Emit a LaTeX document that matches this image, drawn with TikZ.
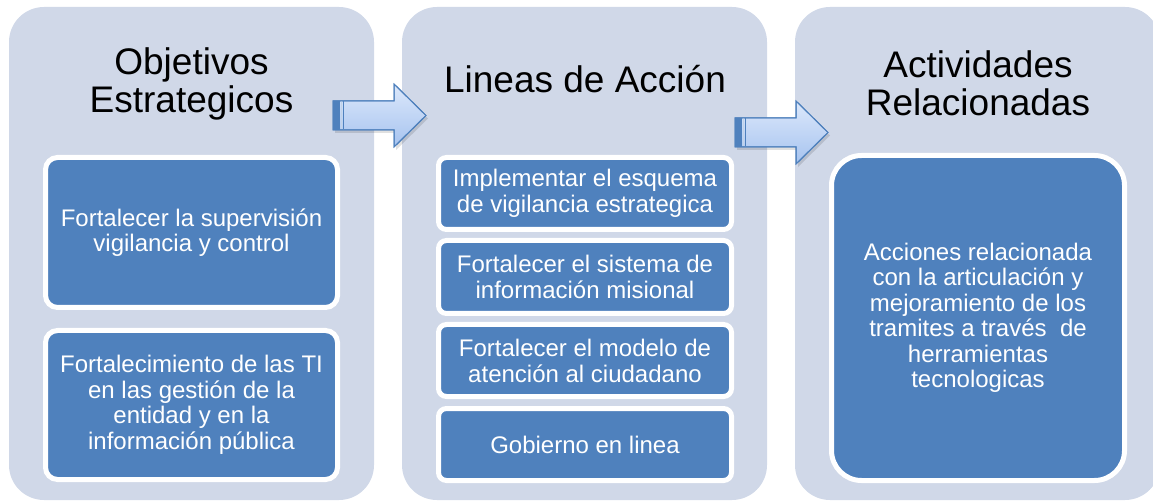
\documentclass[tikz,border=0pt]{standalone}
\usepackage{fontspec}
\setmainfont{Liberation Sans}
\definecolor{panelbg}{HTML}{D0D8E8}
\definecolor{boxblue}{HTML}{4F81BD}
\definecolor{arrowtop}{HTML}{DCE8FB}
\definecolor{arrowbot}{HTML}{A6C3EF}
\begin{document}
\begin{tikzpicture}[x=1pt,y=-1pt,
  panel/.style={fill=panelbg, rounded corners=35pt, inner sep=0pt, minimum width=365pt, minimum height=493pt},
  box/.style={fill=boxblue, draw=white, line width=5pt, text=white, align=center, inner sep=0pt,
    font=\fontsize{24}{25.5}\selectfont},
  lbox/.style={box, minimum width=293pt, minimum height=72pt, rounded corners=8pt, font=\fontsize{24}{26}\selectfont},
  title/.style={font=\fontsize{37}{38}\selectfont, align=center, inner sep=0pt},
  arrowshape/.style={top color=arrowtop, bottom color=arrowbot, draw=boxblue, line width=1pt, line join=miter}
]
\useasboundingbox (0,0) rectangle (1153,502);
\clip (0,0) rectangle (1153,502);

% panels
\node[panel] (p1) at (191.5,253.5) {};
\node[panel] (p2) at (584.5,253.5) {};
\node[panel] (p3) at (977.5,253.5) {};

% titles
\node[title] (t1) at (191.5,83.5) {Objetivos\\Estrategicos};
\node[title, anchor=base] (t2) at (585,93) {Lineas de Acción};
\node[title] (t3) at (978,83) {Actividades\\Relacionadas};

% panel 1 boxes
\node[box, minimum width=292pt, minimum height=150pt, rounded corners=12pt] (o1) at (191.5,232.5)
  {Fortalecer la supervisión\\vigilancia y control};
\node[box, minimum width=292pt, minimum height=149pt, rounded corners=12pt] (o2) at (191.5,405)
  {Fortalecimiento de las TI\\en las gestión de la\\entidad y en la\\información pública};

% panel 2 boxes
\node[lbox] (l1) at (585,193.5) {Implementar el esquema\\de vigilancia estrategica};
\node[lbox, minimum height=73pt] (l2) at (585,277) {Fortalecer el sistema de\\información misional};
\node[lbox] (l3) at (585,360.5) {Fortalecer el modelo de\\atención al ciudadano};
\node[lbox] (l4) at (585,444.5) {Gobierno en linea};

% panel 3 box
\node[box, minimum width=293pt, minimum height=325pt, rounded corners=30pt] (a1) at (978,318)
  {Acciones relacionada\\con la articulación y\\mejoramiento de los\\tramites a través~ de\\herramientas\\tecnologicas};

% arrows
\foreach \dx/\dy in {0/0, 402/17} {
  \begin{scope}[shift={(\dx,\dy)}]
    \fill[black, opacity=0.12] (335,104) -- (396,104) -- (396,87) -- (428,118.5) -- (396,150) -- (396,133) -- (335,133) -- cycle;
    \draw[arrowshape] (333,101) -- (394,101) -- (394,84) -- (426,115.5) -- (394,147) -- (394,130) -- (333,130) -- cycle;
    \fill[boxblue] (333,101) rectangle (340,130);
    \draw[white!65!boxblue, line width=1.2pt] (341.3,101.5) -- (341.3,129.5);
    \draw[boxblue, line width=0.8pt] (343,101.5) -- (343,129.5);
    \draw[boxblue, line width=1pt] (333,101) -- (394,101) -- (394,84) -- (426,115.5) -- (394,147) -- (394,130) -- (333,130) -- cycle;
  \end{scope}
}
\end{tikzpicture}
\end{document}
